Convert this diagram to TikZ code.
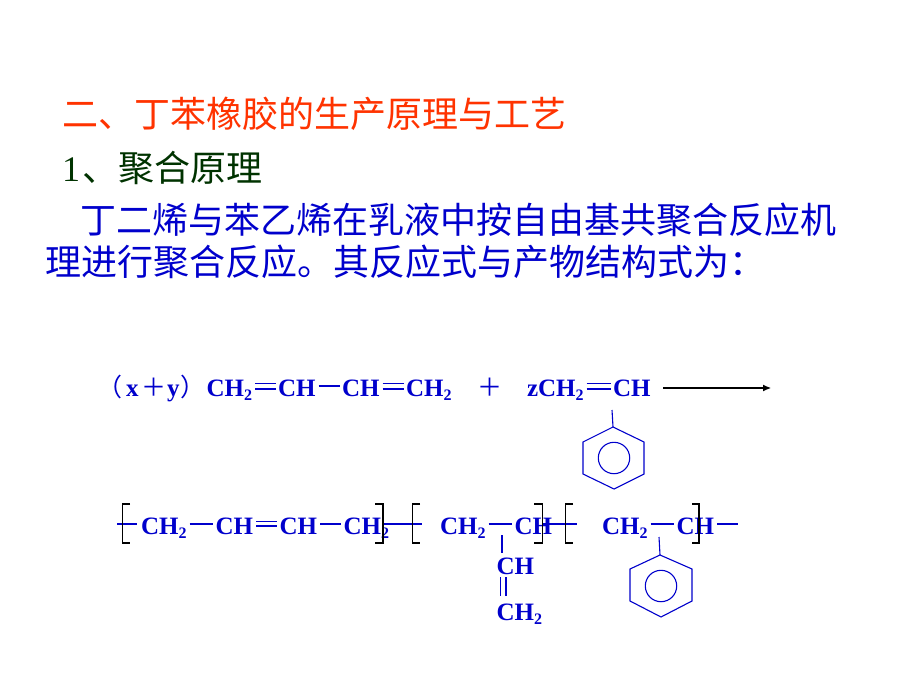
\documentclass[tikz,border=0pt]{standalone}
\usepackage{fontspec}
\usetikzlibrary{arrows.meta}
\setmainfont{Liberation Serif}
\newfontfamily\cjk{Noto Sans CJK SC}
\definecolor{chemblue}{HTML}{0000CC}
\definecolor{titlered}{HTML}{FF3300}
\definecolor{headgreen}{HTML}{003300}
\newcommand\chtwo{CH{\fontsize{16}{16}\selectfont\raisebox{-4pt}{2}}}
\newcommand\sbond[3]{\draw[bond] (#1.east |- 0,#3) -- (#2.west |- 0,#3);}
\newcommand\dbond[4]{\draw[bond] (#1.east |- 0,#3) -- (#2.west |- 0,#3); \draw[bond] (#1.east |- 0,#4) -- (#2.west |- 0,#4);}
\tikzset{
  every node/.style={inner sep=0pt,outer sep=0pt,anchor=base west},
  bond/.style={draw=chemblue,line width=1.3pt,shorten >=2.5pt,shorten <=3pt},
  plainbond/.style={draw=chemblue,line width=1.1pt},
  bracket/.style={draw=black,line width=1.1pt},
  chem/.style={text=chemblue,font=\fontsize{25}{25}\selectfont\bfseries},
  chemcjk/.style={text=chemblue,font=\cjk\fontsize{25}{25}\selectfont},
  head/.style={font=\cjk\fontsize{36}{36}\selectfont},
  ring/.style={draw=chemblue,line width=1.1pt}
}
\begin{document}
\begin{tikzpicture}[x=1pt,y=-1pt]
\useasboundingbox[fill=white] (0,0) rectangle (920,690);
% headings
\node[head,text=titlered] (t1) at (62,128) {二、丁苯橡胶的生产原理与工艺};
\node[head,text=headgreen,font=\fontsize{36}{36}\selectfont] (t2a) at (62,181) {1};
\node[head,text=headgreen] (t2b) at (82,181) {、聚合原理};
\node[head,text=chemblue] (t3) at (80,233) {丁二烯与苯乙烯在乳液中按自由基共聚合反应机};
\node[head,text=chemblue] (t4) at (45,275) {理进行聚合反应。其反应式与产物结构式为：};
% first row
\node[chemcjk] (lp) at (97,396) {（};
\node[chem] (x) at (126,396) {x};
\node[chemcjk] (pl1) at (141,396) {＋};
\node[chem] (y) at (167,396) {y};
\node[chemcjk] (rp) at (180,396) {）};
\node[chem] (a1) at (206.5,396) {\chtwo};
\node[chem] (a2) at (278,396) {CH};
\node[chem] (a3) at (342,396) {CH};
\node[chem] (a4) at (406,396) {\chtwo};
\node[chemcjk] (pl2) at (477,396) {＋};
\node[chem] (z1) at (527,396) {z\chtwo};
\node[chem] (z2) at (613,396) {CH};
\dbond{a1}{a2}{383.5}{389}
\sbond{a2}{a3}{386}
\dbond{a3}{a4}{383.5}{389}
\dbond{z1}{z2}{383.5}{389}
\coordinate (arrS) at (663,388);
\coordinate (arrE) at (771,388);
\draw[draw=black,line width=1.1pt,-{Latex[length=8pt,width=7pt]}] (arrS) -- (arrE);
% first benzene
\coordinate (r1a) at (613,427);
\coordinate (r1s) at (612,410);
\draw[plainbond] (r1s) -- (r1a);
\draw[ring] (r1a) -- (644,442) -- (644,474) -- (614,489) -- (583,474) -- (583,442) -- cycle;
\draw[ring] (614,458) circle (15.7);
% second row
\node[chem] (b1) at (141,534) {\chtwo};
\node[chem] (b2) at (215.5,534) {CH};
\node[chem] (b3) at (279.5,534) {CH};
\node[chem] (b4) at (343.5,534) {\chtwo};
\node[chem] (c1) at (440,534) {\chtwo};
\node[chem] (c2) at (514.5,534) {CH};
\node[chem] (d1) at (602,534) {\chtwo};
\node[chem] (d2) at (676.5,534) {CH};
\node[chem] (c3) at (496.5,574) {CH};
\node[chem] (c4) at (496.5,620.5) {\chtwo};
\sbond{b1}{b2}{524}
\dbond{b2}{b3}{521.5}{526}
\sbond{b3}{b4}{524}
\sbond{c1}{c2}{524}
\sbond{d1}{d2}{524}
\coordinate (l1a) at (117,524);
\coordinate (l1b) at (137,524);
\draw[plainbond] (l1a) -- (l1b);
\coordinate (l2a) at (382,524);
\coordinate (l2b) at (422,524);
\draw[plainbond] (l2a) -- (l2b);
\coordinate (l3a) at (543,524);
\coordinate (l3b) at (577,524);
\draw[plainbond] (l3a) -- (l3b);
\coordinate (l4a) at (717,524);
\coordinate (l4b) at (738,524);
\draw[plainbond] (l4a) -- (l4b);
% brackets
\draw[bracket] (130,504) -- (122.5,504) -- (122.5,543) -- (130,543);
\draw[bracket] (375,504) -- (383,504) -- (383,543) -- (375,543);
\draw[bracket] (420,504) -- (412.5,504) -- (412.5,543) -- (420,543);
\draw[bracket] (534,504) -- (542.5,504) -- (542.5,543) -- (534,543);
\draw[bracket] (573,504) -- (565.5,504) -- (565.5,543) -- (573,543);
\draw[bracket] (692,504) -- (699,504) -- (699,543) -- (692,543);
% side chain
\coordinate (v1) at (502,535);
\coordinate (v2) at (502,553);
\draw[plainbond] (v1) -- (v2);
\coordinate (w1a) at (500.5,577);
\coordinate (w1b) at (500.5,596);
\coordinate (w2a) at (506,577);
\coordinate (w2b) at (506,596);
\draw[plainbond] (w1a) -- (w1b);
\draw[plainbond] (w2a) -- (w2b);
% second benzene
\coordinate (r2a) at (660,555);
\coordinate (r2s) at (659,537);
\draw[plainbond] (r2s) -- (r2a);
\draw[ring] (r2a) -- (692,569) -- (692,601) -- (661,617) -- (630,601) -- (630,569) -- cycle;
\draw[ring] (661,586) circle (15.7);
\end{tikzpicture}
\end{document}
